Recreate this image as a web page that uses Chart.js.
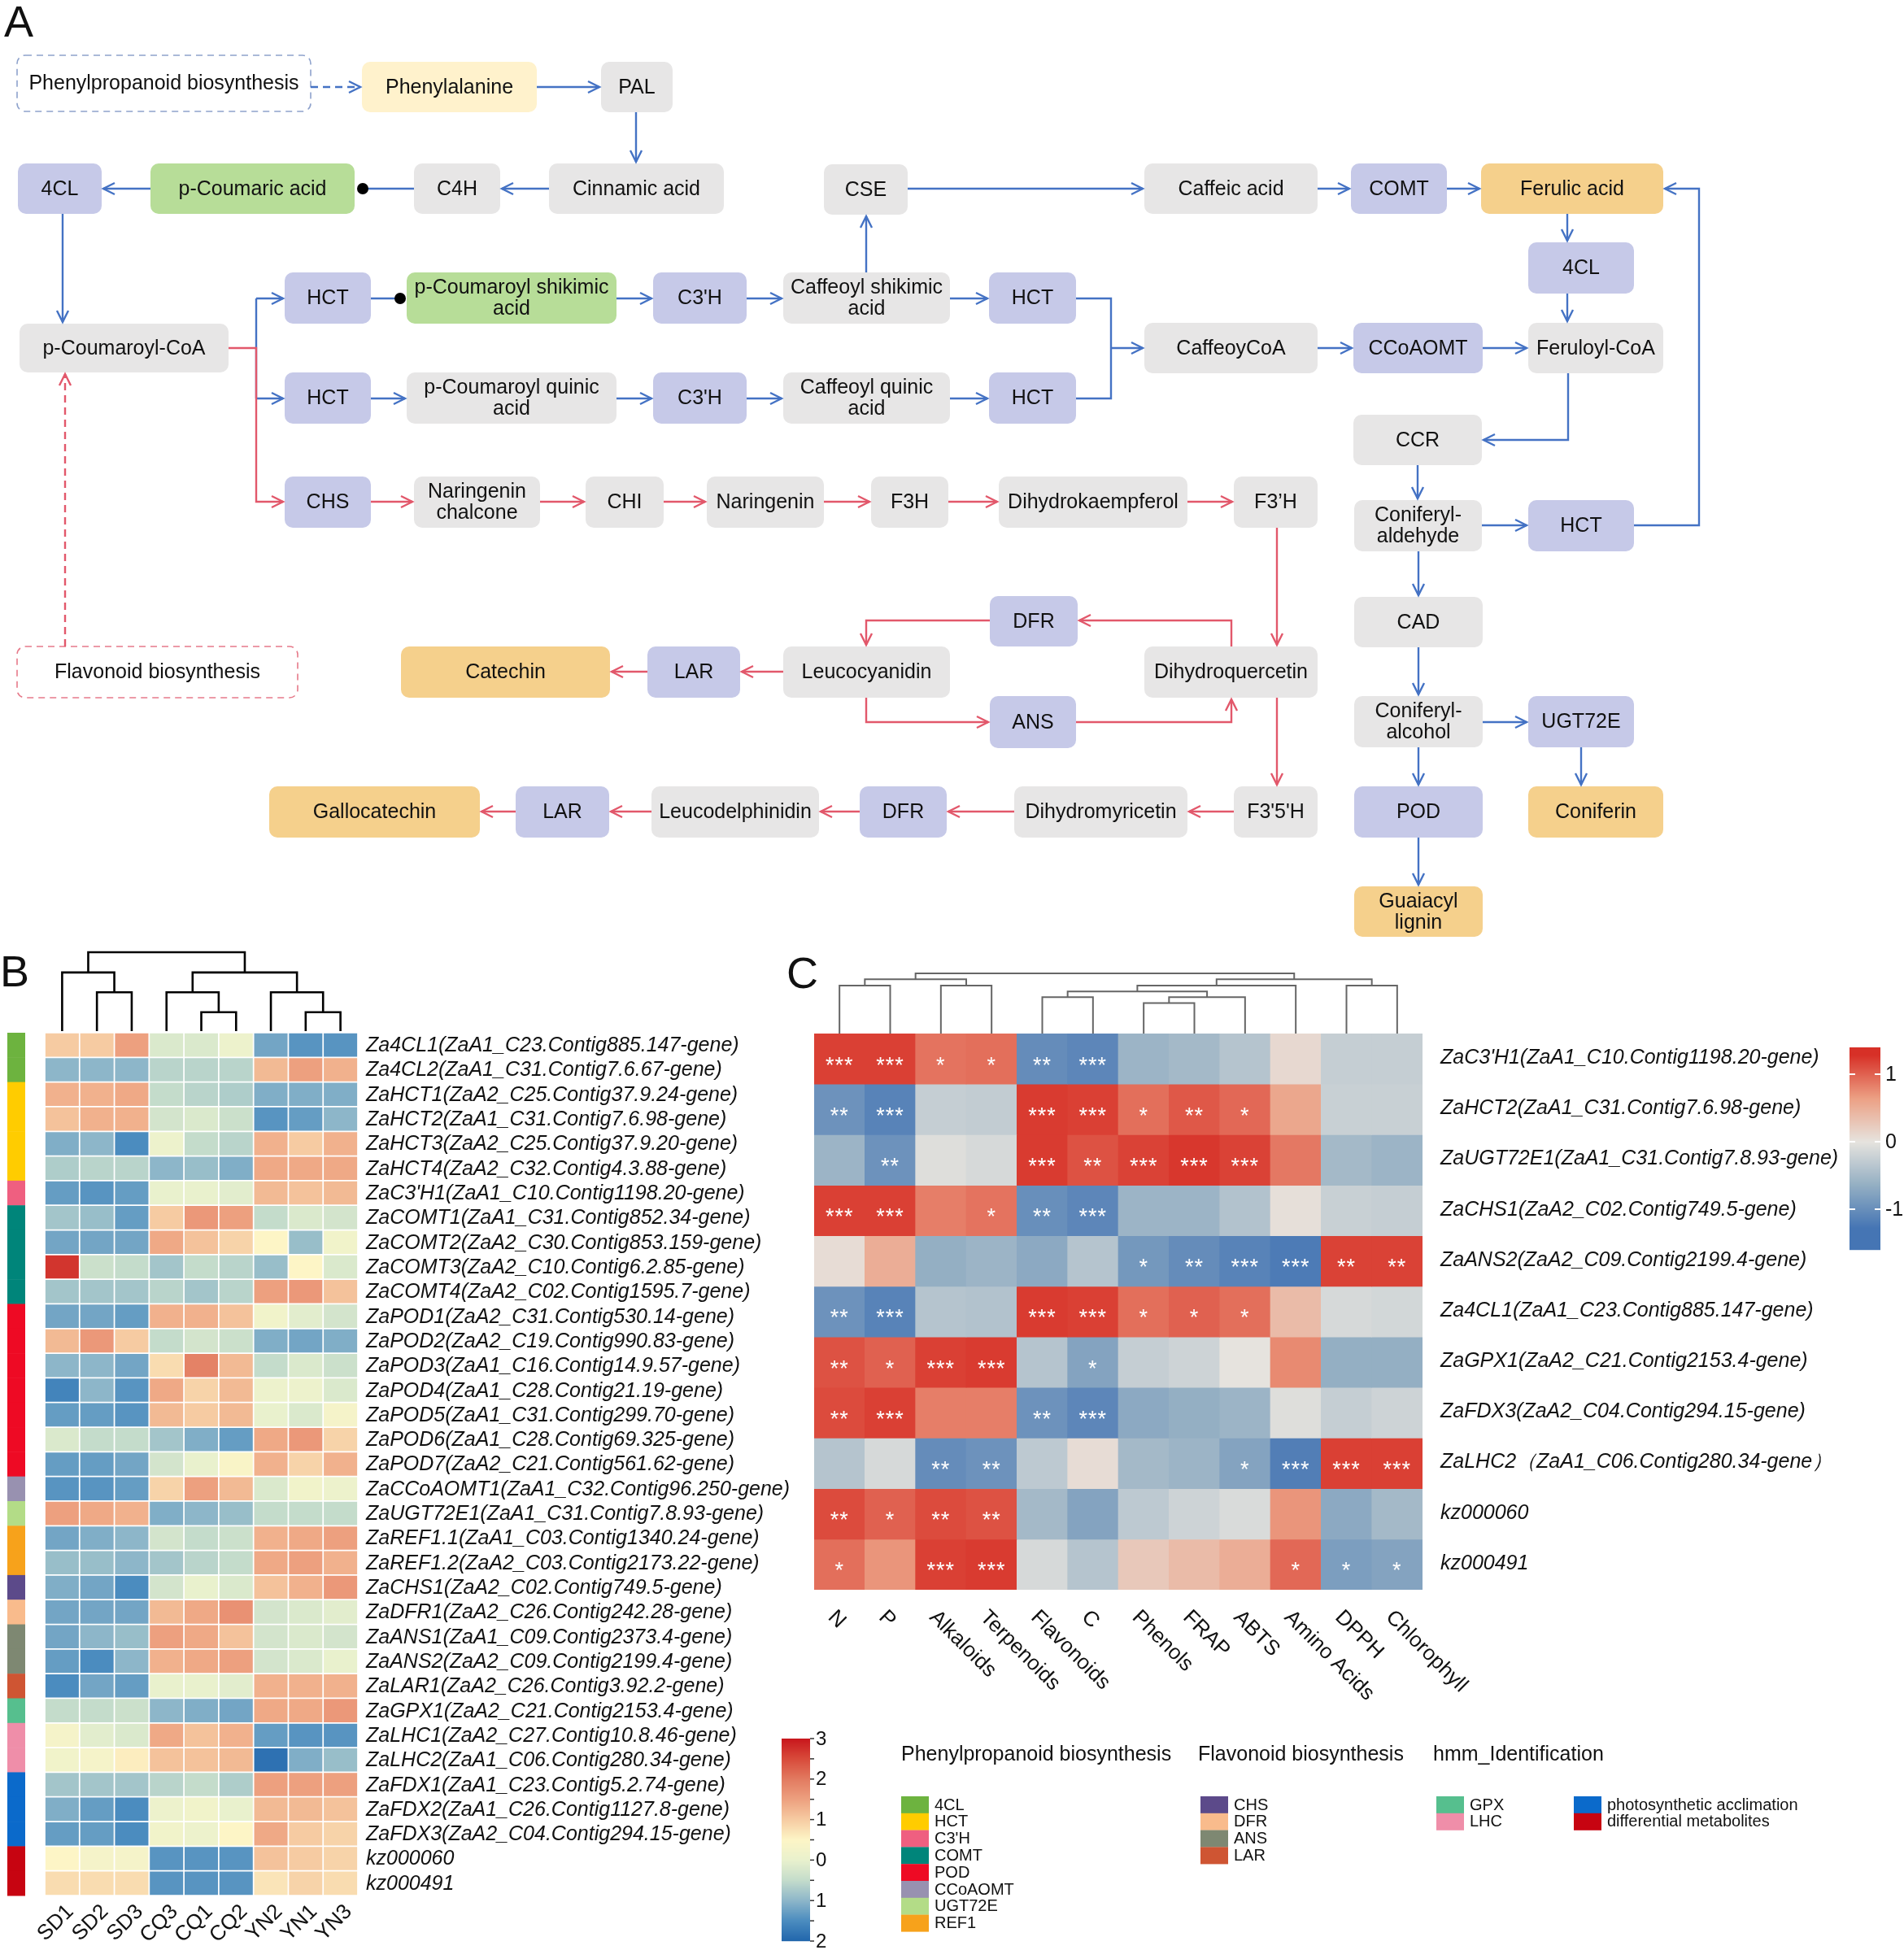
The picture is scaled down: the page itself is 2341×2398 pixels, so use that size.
<!DOCTYPE html>
<html>
<head>
<meta charset="utf-8">
<script src="https://cdn.jsdelivr.net/npm/chart.js@4.4.0/dist/chart.umd.min.js"></script>
<style>
    html, body { margin: 0; padding: 0; background: #fff; }
    #page { position: relative; width: 2341px; height: 2398px; overflow: hidden; background: #fff; }
    canvas { position: absolute; }
</style>
</head>
<body>
<div id="page">
    <canvas id="pathway" width="2341" height="1165" style="left:0;top:0;width:2341px;height:1165px"></canvas>
    <canvas id="heatB" width="1100" height="1248" style="left:0;top:1150px;width:1100px;height:1248px"></canvas>
    <canvas id="heatC" width="1391" height="1248" style="left:950px;top:1150px;width:1391px;height:1248px"></canvas>
</div>
<script>
// ---------- panel B data ----------
const bSamples = ['SD1', 'SD2', 'SD3', 'CQ3', 'CQ1', 'CQ2', 'YN2', 'YN1', 'YN3'];
const bGenes = [
    "Za4CL1(ZaA1_C23.Contig885.147-gene)", "Za4CL2(ZaA1_C31.Contig7.6.67-gene)",
    "ZaHCT1(ZaA2_C25.Contig37.9.24-gene)", "ZaHCT2(ZaA1_C31.Contig7.6.98-gene)",
    "ZaHCT3(ZaA2_C25.Contig37.9.20-gene)", "ZaHCT4(ZaA2_C32.Contig4.3.88-gene)",
    "ZaC3'H1(ZaA1_C10.Contig1198.20-gene)", "ZaCOMT1(ZaA1_C31.Contig852.34-gene)",
    "ZaCOMT2(ZaA2_C30.Contig853.159-gene)", "ZaCOMT3(ZaA2_C10.Contig6.2.85-gene)",
    "ZaCOMT4(ZaA2_C02.Contig1595.7-gene)", "ZaPOD1(ZaA2_C31.Contig530.14-gene)",
    "ZaPOD2(ZaA2_C19.Contig990.83-gene)", "ZaPOD3(ZaA1_C16.Contig14.9.57-gene)",
    "ZaPOD4(ZaA1_C28.Contig21.19-gene)", "ZaPOD5(ZaA1_C31.Contig299.70-gene)",
    "ZaPOD6(ZaA1_C28.Contig69.325-gene)", "ZaPOD7(ZaA2_C21.Contig561.62-gene)",
    "ZaCCoAOMT1(ZaA1_C32.Contig96.250-gene)", "ZaUGT72E1(ZaA1_C31.Contig7.8.93-gene)",
    "ZaREF1.1(ZaA1_C03.Contig1340.24-gene)", "ZaREF1.2(ZaA2_C03.Contig2173.22-gene)",
    "ZaCHS1(ZaA2_C02.Contig749.5-gene)", "ZaDFR1(ZaA2_C26.Contig242.28-gene)",
    "ZaANS1(ZaA1_C09.Contig2373.4-gene)", "ZaANS2(ZaA2_C09.Contig2199.4-gene)",
    "ZaLAR1(ZaA2_C26.Contig3.92.2-gene)", "ZaGPX1(ZaA2_C21.Contig2153.4-gene)",
    "ZaLHC1(ZaA2_C27.Contig10.8.46-gene)", "ZaLHC2(ZaA1_C06.Contig280.34-gene)",
    "ZaFDX1(ZaA1_C23.Contig5.2.74-gene)", "ZaFDX2(ZaA1_C26.Contig1127.8-gene)",
    "ZaFDX3(ZaA2_C04.Contig294.15-gene)", "kz000060", "kz000491"
];
const bGroups = [
    '4CL', '4CL', 'HCT', 'HCT', 'HCT', 'HCT', "C3'H", 'COMT', 'COMT', 'COMT', 'COMT',
    'POD', 'POD', 'POD', 'POD', 'POD', 'POD', 'POD', 'CCoAOMT', 'UGT72E', 'REF1', 'REF1',
    'CHS', 'DFR', 'ANS', 'ANS', 'LAR', 'GPX', 'LHC', 'LHC',
    'photosynthetic acclimation', 'photosynthetic acclimation', 'photosynthetic acclimation',
    'differential metabolites', 'differential metabolites'
];
const bValues = [
    [1.0, 1.0, 1.5, -0.2, -0.2, 0.1, -1.2, -1.4, -1.4],
    [-1.0, -1.0, -1.0, -0.6, -0.6, -0.6, 1.2, 1.5, 1.3],
    [1.3, 1.3, 1.4, -0.5, -0.6, -0.7, -1.1, -1.1, -1.1],
    [1.1, 1.3, 1.3, -0.3, -0.2, -0.4, -1.4, -1.3, -1.0],
    [-1.1, -1.0, -1.5, 0.1, -0.5, -0.6, 1.3, 1.0, 1.3],
    [-0.7, -0.6, -0.6, -1.0, -0.9, -1.1, 1.4, 1.4, 1.4],
    [-1.3, -1.4, -1.3, 0.0, 0.0, -0.1, 1.2, 1.1, 1.2],
    [-0.8, -0.9, -1.3, 1.0, 1.6, 1.5, -0.5, -0.2, -0.3],
    [-1.2, -1.2, -1.2, 1.4, 1.1, 0.9, 0.5, -0.9, 0.2],
    [2.7, -0.4, -0.5, -0.8, -0.5, -0.6, -0.9, 0.5, -0.2],
    [-0.8, -0.8, -0.8, -0.6, -0.8, -0.6, 1.5, 1.6, 1.1],
    [-1.2, -1.2, -1.3, 1.3, 1.3, 1.1, 0.2, -0.1, -0.3],
    [1.2, 1.6, 1.0, -0.5, -0.3, -0.4, -1.1, -1.2, -1.1],
    [-1.0, -1.0, -1.2, 0.8, 1.9, 1.2, -0.5, -0.2, -0.4],
    [-1.6, -1.0, -1.4, 1.4, 0.9, 1.2, 0.1, 0.1, -0.2],
    [-1.3, -1.3, -1.4, 1.2, 1.0, 1.2, 0.0, -0.2, 0.3],
    [-0.2, -0.5, -0.5, -0.8, -1.1, -1.3, 1.4, 1.6, 0.9],
    [-1.3, -1.3, -1.2, -0.3, 0.0, 0.4, 1.3, 0.9, 1.3],
    [-1.4, -1.4, -1.3, 0.9, 1.5, 1.2, -0.2, 0.2, 0.1],
    [1.5, 1.4, 1.3, -1.1, -1.0, -0.9, -0.5, -0.5, -0.5],
    [-1.2, -1.1, -1.0, -0.3, -0.5, -0.4, 1.3, 1.4, 1.5],
    [-0.9, -0.9, -1.0, -0.8, -0.6, -0.5, 1.4, 1.5, 1.3],
    [-1.1, -1.2, -1.5, -0.3, 0.0, -0.2, 1.1, 1.3, 1.6],
    [-1.2, -1.2, -1.2, 1.2, 1.4, 1.7, -0.3, -0.2, -0.1],
    [-1.2, -1.0, -0.9, 1.5, 1.4, 1.1, -0.3, -0.2, -0.3],
    [-1.3, -1.5, -1.0, 1.3, 1.4, 1.5, -0.3, -0.2, 0.0],
    [-1.5, -1.2, -1.3, 0.0, 0.0, -0.1, 1.3, 1.3, 1.3],
    [-0.5, -0.5, -0.4, -1.0, -1.1, -1.2, 1.4, 1.4, 1.6],
    [0.3, -0.1, -0.2, 1.4, 1.1, 1.3, -1.3, -1.4, -1.4],
    [0.2, 0.3, 0.6, 1.1, 1.1, 1.2, -1.85, -1.1, -0.9],
    [-0.8, -0.8, -0.8, -0.6, -0.5, -0.7, 1.5, 1.5, 1.5],
    [-1.1, -1.3, -1.5, 0.1, 0.2, 0.0, 1.2, 1.2, 1.1],
    [-1.3, -1.3, -1.5, 0.2, 0.1, 0.5, 1.4, 1.0, 0.9],
    [0.5, 0.3, 0.3, -1.4, -1.4, -1.4, 1.1, 1.0, 0.9],
    [0.8, 0.8, 0.8, -1.4, -1.4, -1.4, 0.7, 0.9, 0.8]
];
// hclust style merges: negative = leaf (1-based), positive = earlier merge; third value = height
const bMerge = [[-5, -6, 57], [-8, -9, 57], [-2, -3, 117], [-4, 1, 117], [-7, 2, 117], [-1, 3, 177], [4, 5, 177], [6, 7, 238]];
const bTickValues = [3, 2, 1, 0, -1, -2];
const bTickLabels = ['3', '2', '1', '0', '1', '2'];

// ---------- panel C data ----------
const cTraits = ['N', 'P', 'Alkaloids', 'Terpenoids', 'Flavonoids', 'C', 'Phenols', 'FRAP', 'ABTS', 'Amino Acids', 'DPPH', 'Chlorophyll'];
const cGenes = [
    "ZaC3'H1(ZaA1_C10.Contig1198.20-gene)", "ZaHCT2(ZaA1_C31.Contig7.6.98-gene)",
    "ZaUGT72E1(ZaA1_C31.Contig7.8.93-gene)", "ZaCHS1(ZaA2_C02.Contig749.5-gene)",
    "ZaANS2(ZaA2_C09.Contig2199.4-gene)", "Za4CL1(ZaA1_C23.Contig885.147-gene)",
    "ZaGPX1(ZaA2_C21.Contig2153.4-gene)", "ZaFDX3(ZaA2_C04.Contig294.15-gene)",
    "ZaLHC2（ZaA1_C06.Contig280.34-gene）", "kz000060", "kz000491"
];
const cCorr = [
    [0.93, 0.93, 0.70, 0.72, -0.80, -0.85, -0.45, -0.40, -0.30, 0.08, -0.20, -0.20],
    [-0.75, -0.88, -0.20, -0.22, 0.95, 0.93, 0.72, 0.82, 0.75, 0.45, -0.18, -0.18],
    [-0.45, -0.75, -0.05, -0.10, 0.95, 0.85, 0.92, 0.97, 0.92, 0.68, -0.40, -0.45],
    [0.93, 0.93, 0.65, 0.70, -0.78, -0.85, -0.45, -0.45, -0.32, 0.03, -0.18, -0.20],
    [0.05, 0.40, -0.50, -0.45, -0.55, -0.30, -0.70, -0.80, -0.88, -0.95, 0.92, 0.92],
    [-0.75, -0.88, -0.30, -0.32, 0.95, 0.93, 0.72, 0.78, 0.72, 0.30, -0.10, -0.12],
    [0.85, 0.78, 0.93, 0.95, -0.30, -0.60, -0.20, -0.15, 0.00, 0.60, -0.50, -0.50],
    [0.88, 0.93, 0.65, 0.65, -0.75, -0.85, -0.55, -0.50, -0.45, -0.05, -0.20, -0.15],
    [-0.30, -0.10, -0.80, -0.75, -0.25, 0.05, -0.40, -0.45, -0.60, -0.92, 0.93, 0.93],
    [0.88, 0.78, 0.88, 0.85, -0.40, -0.60, -0.25, -0.15, -0.08, 0.55, -0.55, -0.40],
    [0.72, 0.55, 0.93, 0.95, -0.10, -0.30, 0.20, 0.30, 0.40, 0.75, -0.65, -0.60]
];
const cStars = [
    ['***', '***', '*', '*', '**', '***', '', '', '', '', '', ''],
    ['**', '***', '', '', '***', '***', '*', '**', '*', '', '', ''],
    ['', '**', '', '', '***', '**', '***', '***', '***', '', '', ''],
    ['***', '***', '', '*', '**', '***', '', '', '', '', '', ''],
    ['', '', '', '', '', '', '*', '**', '***', '***', '**', '**'],
    ['**', '***', '', '', '***', '***', '*', '*', '*', '', '', ''],
    ['**', '*', '***', '***', '', '*', '', '', '', '', '', ''],
    ['**', '***', '', '', '**', '***', '', '', '', '', '', ''],
    ['', '', '**', '**', '', '', '', '', '*', '***', '***', '***'],
    ['**', '*', '**', '**', '', '', '', '', '', '', '', ''],
    ['*', '', '***', '***', '', '', '', '', '', '*', '*', '*']
];
const cMerge = [[-1, -2, 145], [-3, -4, 145], [-7, -8, 92], [-5, -6, 110], [3, -9, 110], [4, 5, 127],
    [6, -10, 145], [-11, -12, 145], [1, 2, 164], [7, 8, 164], [9, 10, 182]];
const cTickValues = [1, 0, -1];

// ---------- legend ----------
const legendTitles = ['Phenylpropanoid biosynthesis', 'Flavonoid biosynthesis', 'hmm_Identification'];
const phenylItems = ['4CL', 'HCT', "C3'H", 'COMT', 'POD', 'CCoAOMT', 'UGT72E', 'REF1'];
const flavItems = ['CHS', 'DFR', 'ANS', 'LAR'];
const hmmItems = ['GPX', 'LHC'];
const otherItems = ['photosynthetic acclimation', 'differential metabolites'];

const groupColors = {
    '4CL': '#6db33f', 'HCT': '#ffcc00', "C3'H": '#ef5f80', 'COMT': '#00857a', 'POD': '#ee0a24',
    'CCoAOMT': '#9891b0', 'UGT72E': '#b3dc87', 'REF1': '#f7a21b', 'CHS': '#5c4a8a', 'DFR': '#f9bb8c',
    'ANS': '#7e8872', 'LAR': '#cf5533', 'GPX': '#56bf8e', 'LHC': '#ef8ea9',
    'photosynthetic acclimation': '#0b6acb', 'differential metabolites': '#c70411'
};

const FONT = '"Liberation Sans", Arial, sans-serif';

function hexRgb(h) {
    return [parseInt(h.slice(1, 3), 16), parseInt(h.slice(3, 5), 16), parseInt(h.slice(5, 7), 16)];
}
function ramp(stops, v) {
    if (v <= stops[0][0]) return stops[0][1];
    if (v >= stops[stops.length - 1][0]) return stops[stops.length - 1][1];
    for (let i = 0; i < stops.length - 1; i++) {
        const a = stops[i], b = stops[i + 1];
        if (v >= a[0] && v <= b[0]) {
            const t = (v - a[0]) / (b[0] - a[0]);
            const ca = hexRgb(a[1]), cb = hexRgb(b[1]);
            const c = ca.map((x, k) => Math.round(x + (cb[k] - x) * t));
            return `rgb(${c[0]},${c[1]},${c[2]})`;
        }
    }
}
const bStops = [[-2, '#2166ac'], [-1.5, '#4b8cbf'], [-1, '#8db6c9'], [-0.5, '#c4dccb'], [0, '#e9f1cd'],
    [0.5, '#fdf5c6'], [1, '#f6cba2'], [1.5, '#eda07f'], [2, '#e27a60'], [2.5, '#d84a3a'], [3, '#c8161c']];
const cStops = [[-1, '#4575b4'], [-0.5, '#94afc3'], [0, '#e6e3de'], [0.5, '#eca084'], [1, '#d73027']];

function drawDendro(ctx, merges, leafX, baseY, scale) {
    const done = [];
    const get = idx => idx < 0 ? { x: leafX(-idx - 1), h: 0 } : done[idx - 1];
    merges.forEach(function (m) {
        const a = get(m[0]), b = get(m[1]);
        const top = baseY - m[2] * scale;
        ctx.beginPath();
        ctx.moveTo(a.x, baseY - a.h * scale);
        ctx.lineTo(a.x, top);
        ctx.lineTo(b.x, top);
        ctx.lineTo(b.x, baseY - b.h * scale);
        ctx.stroke();
        done.push({ x: (a.x + b.x) / 2, h: m[2] });
    });
}

// ---------- panel A layout ----------
const fills = { G: '#e7e6e6', P: '#c6c9e8', GR: '#b7dd98', O: '#f5d08c', Y: '#fff2cc' };
const nodes = [
    ['Phenylalanine', 445, 76, 660, 138, 'Y'], ['PAL', 739, 76, 827, 138, 'G'],
    ['4CL', 22, 201, 125, 263, 'P'], ['p-Coumaric acid', 185, 201, 436, 263, 'GR'],
    ['C4H', 509, 201, 615, 263, 'G'], ['Cinnamic acid', 675, 201, 890, 263, 'G'],
    ['CSE', 1013, 202, 1116, 264, 'G'], ['Caffeic acid', 1407, 201, 1620, 263, 'G'],
    ['COMT', 1661, 201, 1779, 263, 'P'], ['Ferulic acid', 1821, 201, 2045, 263, 'O'],
    ['4CL', 1879, 298, 2009, 361, 'P'],
    ['HCT', 350, 335, 456, 398, 'P'], ['p-Coumaroyl shikimic\nacid', 500, 335, 758, 398, 'GR'],
    ["C3'H", 803, 335, 918, 398, 'P'], ['Caffeoyl shikimic\nacid', 963, 335, 1168, 398, 'G'],
    ['HCT', 1216, 335, 1323, 398, 'P'],
    ['p-Coumaroyl-CoA', 24, 398, 281, 458, 'G'], ['CaffeoyCoA', 1407, 397, 1620, 459, 'G'],
    ['CCoAOMT', 1664, 397, 1823, 459, 'P'], ['Feruloyl-CoA', 1879, 397, 2045, 459, 'G'],
    ['HCT', 350, 458, 456, 521, 'P'], ['p-Coumaroyl quinic\nacid', 500, 458, 758, 521, 'G'],
    ["C3'H", 803, 458, 918, 521, 'P'], ['Caffeoyl quinic\nacid', 963, 458, 1168, 521, 'G'],
    ['HCT', 1216, 458, 1323, 521, 'P'], ['CCR', 1664, 510, 1822, 572, 'G'],
    ['CHS', 350, 586, 456, 649, 'P'], ['Naringenin\nchalcone', 509, 586, 664, 649, 'G'],
    ['CHI', 720, 586, 816, 649, 'G'], ['Naringenin', 869, 586, 1013, 649, 'G'],
    ['F3H', 1071, 586, 1166, 649, 'G'], ['Dihydrokaempferol', 1228, 586, 1460, 649, 'G'],
    ['F3’H', 1517, 586, 1620, 649, 'G'], ['Coniferyl-\naldehyde', 1665, 615, 1822, 678, 'G'],
    ['HCT', 1879, 615, 2009, 678, 'P'], ['DFR', 1217, 733, 1325, 795, 'P'],
    ['CAD', 1665, 734, 1823, 796, 'G'], ['Catechin', 493, 795, 750, 858, 'O'],
    ['LAR', 796, 795, 910, 858, 'P'], ['Leucocyanidin', 963, 795, 1168, 858, 'G'],
    ['Dihydroquercetin', 1407, 795, 1620, 858, 'G'], ['ANS', 1217, 856, 1323, 920, 'P'],
    ['Coniferyl-\nalcohol', 1665, 856, 1823, 919, 'G'], ['UGT72E', 1879, 856, 2009, 919, 'P'],
    ['Gallocatechin', 331, 967, 590, 1030, 'O'], ['LAR', 634, 967, 749, 1030, 'P'],
    ['Leucodelphinidin', 801, 967, 1007, 1030, 'G'], ['DFR', 1057, 967, 1164, 1030, 'P'],
    ['Dihydromyricetin', 1247, 967, 1460, 1030, 'G'], ["F3'5'H", 1517, 967, 1620, 1030, 'G'],
    ['POD', 1665, 967, 1823, 1030, 'P'], ['Coniferin', 1879, 967, 2045, 1030, 'O'],
    ['Guaiacyl\nlignin', 1665, 1090, 1823, 1152, 'O']
];
const dashedBoxes = [
    ['Phenylpropanoid biosynthesis', 21, 68, 382, 137, '#8ea2cc'],
    ['Flavonoid biosynthesis', 21, 795, 366, 858, '#e67a8a']
];
// connectors: colour, points, end style, dashed
const edges = [
    ['b', [[382, 107], [443, 107]], 'arrow', true],
    ['b', [[660, 107], [737, 107]], 'arrow'],
    ['b', [[782, 138], [782, 199]], 'arrow'],
    ['b', [[675, 232], [617, 232]], 'arrow'],
    ['b', [[509, 232], [446, 232]], 'dot'],
    ['b', [[185, 232], [127, 232]], 'arrow'],
    ['b', [[77, 263], [77, 396]], 'arrow'],
    ['b', [[315, 367], [315, 490]], 'none'],
    ['b', [[315, 367], [348, 367]], 'arrow'],
    ['b', [[315, 490], [348, 490]], 'arrow'],
    ['r', [[281, 428], [315, 428], [315, 617], [348, 617]], 'arrow'],
    ['b', [[456, 367], [492, 367]], 'dot'],
    ['b', [[758, 367], [801, 367]], 'arrow'],
    ['b', [[918, 367], [961, 367]], 'arrow'],
    ['b', [[1168, 367], [1214, 367]], 'arrow'],
    ['b', [[1065, 335], [1065, 266]], 'arrow'],
    ['b', [[1116, 232], [1405, 232]], 'arrow'],
    ['b', [[1620, 232], [1659, 232]], 'arrow'],
    ['b', [[1779, 232], [1819, 232]], 'arrow'],
    ['b', [[456, 490], [498, 490]], 'arrow'],
    ['b', [[758, 490], [801, 490]], 'arrow'],
    ['b', [[918, 490], [961, 490]], 'arrow'],
    ['b', [[1168, 490], [1214, 490]], 'arrow'],
    ['b', [[1323, 367], [1366, 367], [1366, 490], [1323, 490]], 'none'],
    ['b', [[1366, 428], [1405, 428]], 'arrow'],
    ['b', [[1620, 428], [1662, 428]], 'arrow'],
    ['b', [[1823, 428], [1877, 428]], 'arrow'],
    ['b', [[1927, 263], [1927, 296]], 'arrow'],
    ['b', [[1927, 361], [1927, 395]], 'arrow'],
    ['b', [[1928, 459], [1928, 541], [1824, 541]], 'arrow'],
    ['b', [[1743, 572], [1743, 613]], 'arrow'],
    ['b', [[1822, 646], [1877, 646]], 'arrow'],
    ['b', [[2009, 646], [2089, 646], [2089, 232], [2047, 232]], 'arrow'],
    ['b', [[1744, 678], [1744, 732]], 'arrow'],
    ['b', [[1744, 796], [1744, 854]], 'arrow'],
    ['b', [[1823, 888], [1877, 888]], 'arrow'],
    ['b', [[1944, 919], [1944, 965]], 'arrow'],
    ['b', [[1744, 919], [1744, 965]], 'arrow'],
    ['b', [[1744, 1030], [1744, 1088]], 'arrow'],
    ['r', [[80, 795], [80, 460]], 'arrow', true],
    ['r', [[456, 617], [507, 617]], 'arrow'],
    ['r', [[664, 617], [718, 617]], 'arrow'],
    ['r', [[816, 617], [867, 617]], 'arrow'],
    ['r', [[1013, 617], [1069, 617]], 'arrow'],
    ['r', [[1166, 617], [1226, 617]], 'arrow'],
    ['r', [[1460, 617], [1515, 617]], 'arrow'],
    ['r', [[1570, 649], [1570, 793]], 'arrow'],
    ['r', [[1514, 795], [1514, 763], [1327, 763]], 'arrow'],
    ['r', [[1217, 763], [1065, 763], [1065, 793]], 'arrow'],
    ['r', [[963, 826], [912, 826]], 'arrow'],
    ['r', [[796, 826], [752, 826]], 'arrow'],
    ['r', [[1065, 858], [1065, 888], [1215, 888]], 'arrow'],
    ['r', [[1323, 888], [1514, 888], [1514, 860]], 'arrow'],
    ['r', [[1570, 858], [1570, 965]], 'arrow'],
    ['r', [[1517, 998], [1462, 998]], 'arrow'],
    ['r', [[1247, 998], [1166, 998]], 'arrow'],
    ['r', [[1057, 998], [1009, 998]], 'arrow'],
    ['r', [[801, 998], [751, 998]], 'arrow'],
    ['r', [[634, 998], [592, 998]], 'arrow']
];
const edgeColors = { b: '#4472c4', r: '#e2586b' };

const pathwayPlugin = {
    id: 'pathway',
    afterDraw(chart) {
        const ctx = chart.ctx;
        const px = v => chart.scales.x.getPixelForValue(v);
        const py = v => chart.scales.y.getPixelForValue(v);
        ctx.save();
        ctx.fillStyle = '#111';
        ctx.font = `54px ${FONT}`;
        ctx.textBaseline = 'alphabetic';
        ctx.fillText('A', px(5), py(45));

        ctx.textAlign = 'center';
        ctx.textBaseline = 'middle';
        ctx.font = `25px ${FONT}`;
        nodes.forEach(function (n) {
            const x1 = px(n[1]), y1 = py(n[2]), x2 = px(n[3]), y2 = py(n[4]);
            ctx.fillStyle = fills[n[5]];
            ctx.beginPath();
            ctx.roundRect(x1, y1, x2 - x1, y2 - y1, 10);
            ctx.fill();
            ctx.fillStyle = '#111';
            const lines = n[0].split('\n');
            const cx = (x1 + x2) / 2, cy = (y1 + y2) / 2;
            lines.forEach((t, i) => ctx.fillText(t, cx, cy + (i - (lines.length - 1) / 2) * 26 + 1));
        });
        dashedBoxes.forEach(function (d) {
            const x1 = px(d[1]), y1 = py(d[2]), x2 = px(d[3]), y2 = py(d[4]);
            ctx.strokeStyle = d[5];
            ctx.lineWidth = 1.6;
            ctx.setLineDash([8, 6]);
            ctx.beginPath();
            ctx.roundRect(x1, y1, x2 - x1, y2 - y1, 10);
            ctx.stroke();
            ctx.setLineDash([]);
            ctx.fillStyle = '#111';
            ctx.fillText(d[0], (x1 + x2) / 2, (y1 + y2) / 2 + 1);
        });

        edges.forEach(function (e) {
            const pts = e[1].map(p => [px(p[0]), py(p[1])]);
            ctx.strokeStyle = edgeColors[e[0]];
            ctx.lineWidth = 2.4;
            ctx.setLineDash(e[3] ? [9, 6] : []);
            ctx.beginPath();
            pts.forEach((p, i) => i ? ctx.lineTo(p[0], p[1]) : ctx.moveTo(p[0], p[1]));
            ctx.stroke();
            ctx.setLineDash([]);
            const a = pts[pts.length - 2], b = pts[pts.length - 1];
            if (e[2] === 'arrow') {
                const ang = Math.atan2(b[1] - a[1], b[0] - a[0]);
                const L = 14, W = 7;
                ctx.beginPath();
                ctx.moveTo(b[0] - L * Math.cos(ang) + W * Math.sin(ang), b[1] - L * Math.sin(ang) - W * Math.cos(ang));
                ctx.lineTo(b[0], b[1]);
                ctx.lineTo(b[0] - L * Math.cos(ang) - W * Math.sin(ang), b[1] - L * Math.sin(ang) + W * Math.cos(ang));
                ctx.stroke();
            } else if (e[2] === 'dot') {
                ctx.fillStyle = '#000';
                ctx.beginPath();
                ctx.arc(b[0], b[1], 7, 0, Math.PI * 2);
                ctx.fill();
            }
        });
        ctx.restore();
    }
};

new Chart(document.getElementById('pathway'), {
    type: 'scatter',
    data: { datasets: [{ data: [] }] },
    options: {
        responsive: false,
        animation: false,
        devicePixelRatio: 1,
        layout: { padding: 0 },
        scales: {
            x: { type: 'linear', min: 0, max: 2341, display: false },
            y: { type: 'linear', min: 0, max: 1165, reverse: true, display: false }
        },
        plugins: { legend: { display: false }, tooltip: { enabled: false } }
    },
    plugins: [pathwayPlugin]
});

// ---------- panel B ----------
const panelBPlugin = {
    id: 'panelB',
    afterDraw(chart) {
        const ctx = chart.ctx, area = chart.chartArea;
        const xs = chart.scales.x, ys = chart.scales.y;
        ctx.save();
        ctx.fillStyle = '#111';
        ctx.font = `54px ${FONT}`;
        ctx.fillText('B', 0, 63);

        ctx.strokeStyle = '#000';
        ctx.lineWidth = 2.6;
        drawDendro(ctx, bMerge, i => xs.getPixelForValue(i), area.top - 2, 97 / 238);

        bGroups.forEach(function (g, i) {
            const y1 = ys.getPixelForValue(i), y2 = ys.getPixelForValue(i + 1);
            ctx.fillStyle = groupColors[g];
            ctx.fillRect(9, y1, 22, y2 - y1 + 0.5);
        });

        ctx.fillStyle = '#111';
        ctx.font = `italic 25px ${FONT}`;
        ctx.textBaseline = 'middle';
        ctx.textAlign = 'left';
        bGenes.forEach(function (g, i) {
            ctx.fillText(g, area.right + 10, ys.getPixelForValue(i + 0.5) + 1);
        });

        ctx.font = `26px ${FONT}`;
        ctx.textAlign = 'right';
        bSamples.forEach(function (s, i) {
            ctx.save();
            ctx.translate(xs.getPixelForValue(i) + 10, area.bottom + 16);
            ctx.rotate(-Math.PI / 4);
            ctx.fillText(s, 0, 0);
            ctx.restore();
        });

        // colour key
        const kx = 961, kw = 35, ktop = 988, kbot = 1237;
        const kv = y => 3 - (y - ktop) / (kbot - ktop) * 5;
        for (let y = ktop; y < kbot; y++) {
            ctx.fillStyle = ramp(bStops, kv(y + 0.5));
            ctx.fillRect(kx, y, kw, 1.2);
        }
        ctx.strokeStyle = '#333';
        ctx.lineWidth = 1.5;
        for (let v = 3; v >= -2; v -= 0.5) {
            const y = ktop + (3 - v) / 5 * (kbot - ktop);
            ctx.beginPath();
            ctx.moveTo(kx + kw, y);
            ctx.lineTo(kx + kw + 5, y);
            ctx.stroke();
        }
        ctx.fillStyle = '#111';
        ctx.font = `24px ${FONT}`;
        ctx.textAlign = 'left';
        bTickValues.forEach(function (v, i) {
            const y = ktop + (3 - v) / 5 * (kbot - ktop);
            ctx.fillText(bTickLabels[i], kx + kw + 7, y + 1);
        });
        ctx.restore();
    }
};

new Chart(document.getElementById('heatB'), {
    type: 'bar',
    data: {
        labels: bSamples,
        datasets: bValues.map((row, i) => ({
            label: bGenes[i],
            data: row.map(() => 1),
            backgroundColor: row.map(v => ramp(bStops, v)),
            borderColor: '#ffffff',
            borderWidth: 1.2,
            borderSkipped: false,
            barPercentage: 1,
            categoryPercentage: 1
        }))
    },
    options: {
        responsive: false,
        animation: false,
        devicePixelRatio: 1,
        layout: { padding: { left: 55, top: 120, right: 660, bottom: 67 } },
        scales: {
            x: { stacked: true, display: false },
            y: { stacked: true, display: false, min: 0, max: bGenes.length, reverse: true }
        },
        plugins: { legend: { display: false }, tooltip: { enabled: false } }
    },
    plugins: [panelBPlugin]
});

// ---------- panel C ----------
const panelCPlugin = {
    id: 'panelC',
    afterDraw(chart) {
        const ctx = chart.ctx, area = chart.chartArea;
        const xs = chart.scales.x, ys = chart.scales.y;
        ctx.save();
        ctx.fillStyle = '#111';
        ctx.font = `54px ${FONT}`;
        ctx.fillText('C', 17, 65);

        ctx.strokeStyle = '#666';
        ctx.lineWidth = 2;
        drawDendro(ctx, cMerge, i => xs.getPixelForValue(i), area.top, 74 / 182);

        // significance stars
        ctx.fillStyle = '#ffffff';
        ctx.font = `27px ${FONT}`;
        ctx.letterSpacing = '1px';
        ctx.textAlign = 'center';
        ctx.textBaseline = 'middle';
        cStars.forEach(function (row, i) {
            row.forEach(function (s, j) {
                if (s) ctx.fillText(s, xs.getPixelForValue(j), ys.getPixelForValue(i + 0.5) + 9);
            });
        });
        ctx.letterSpacing = '0px';

        ctx.fillStyle = '#111';
        ctx.font = `italic 25px ${FONT}`;
        ctx.textAlign = 'left';
        cGenes.forEach(function (g, i) {
            ctx.fillText(g, area.right + 22, ys.getPixelForValue(i + 0.5) - 1);
        });

        ctx.font = `26px ${FONT}`;
        cTraits.forEach(function (t, j) {
            ctx.save();
            ctx.translate(xs.getPixelForValue(j) - 10, area.bottom + 30);
            ctx.rotate(Math.PI / 4);
            ctx.fillText(t, 0, 0);
            ctx.restore();
        });

        // colour key
        const kx = 1324, kw = 38, ktop = 138, kbot = 387, y1 = 171, unit = 83;
        for (let y = ktop; y < kbot; y++) {
            const v = (y1 - y - 0.5) / unit + 1;
            ctx.fillStyle = ramp(cStops, v * 0.78);
            ctx.fillRect(kx, y, kw, 1.2);
        }
        ctx.strokeStyle = '#ffffff';
        ctx.lineWidth = 2;
        ctx.font = `25px ${FONT}`;
        cTickValues.forEach(function (v) {
            const y = y1 + (1 - v) * unit;
            ctx.beginPath();
            ctx.moveTo(kx, y); ctx.lineTo(kx + 7, y);
            ctx.moveTo(kx + kw - 7, y); ctx.lineTo(kx + kw, y);
            ctx.stroke();
            ctx.fillStyle = '#111';
            ctx.fillText(String(v), kx + kw + 6, y + 1);
        });

        // annotation legend
        ctx.font = `25px ${FONT}`;
        const titleX = [158, 523, 812];
        legendTitles.forEach((t, i) => ctx.fillText(t, titleX[i], 1008));
        const cols = [[phenylItems, 158], [flavItems, 526], [hmmItems, 816], [otherItems, 985]];
        ctx.font = `20px ${FONT}`;
        cols.forEach(function (c) {
            c[0].forEach(function (name, i) {
                const y = 1059 + i * 20.8;
                ctx.fillStyle = groupColors[name];
                ctx.fillRect(c[1], y, 34, 21);
                ctx.fillStyle = '#111';
                ctx.fillText(name, c[1] + 41, y + 11);
            });
        });
        ctx.restore();
    }
};

new Chart(document.getElementById('heatC'), {
    type: 'bar',
    data: {
        labels: cTraits,
        datasets: cCorr.map((row, i) => ({
            label: cGenes[i],
            data: row.map(() => 1),
            backgroundColor: row.map(v => ramp(cStops, v)),
            borderWidth: 0,
            barPercentage: 1,
            categoryPercentage: 1
        }))
    },
    options: {
        responsive: false,
        animation: false,
        devicePixelRatio: 1,
        layout: { padding: { left: 51, top: 121, right: 592, bottom: 443 } },
        scales: {
            x: { stacked: true, display: false },
            y: { stacked: true, display: false, min: 0, max: cGenes.length, reverse: true }
        },
        plugins: { legend: { display: false }, tooltip: { enabled: false } }
    },
    plugins: [panelCPlugin]
});
</script>
</body>
</html>
